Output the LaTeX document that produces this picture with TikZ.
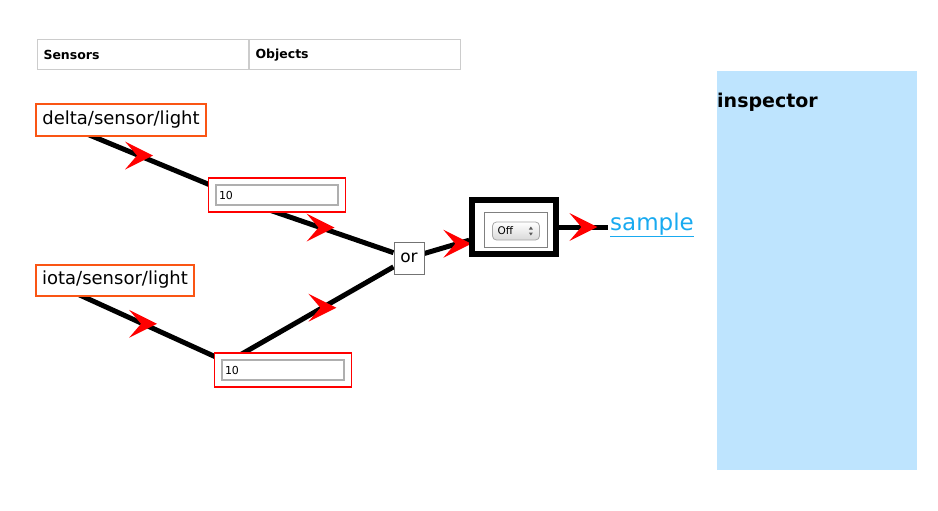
\documentclass[tikz,border=0pt]{standalone}
\usepackage{fontspec}
\setmainfont{DejaVu Sans}
\usetikzlibrary{positioning,calc,backgrounds}
\definecolor{sensororange}{RGB}{250,85,20}
\definecolor{linkblue}{RGB}{25,170,240}
\definecolor{panelblue}{RGB}{190,228,254}
\definecolor{cellgray}{RGB}{204,204,204}
\definecolor{fieldgray}{RGB}{175,175,175}
\newcommand{\pxfont}[1]{\fontsize{#1}{#1}\selectfont}
\tikzset{
  cell/.style={draw=cellgray, line width=1pt, minimum width=211pt, minimum height=30pt,
    text width=199pt, inner xsep=6pt, align=left, font=\pxfont{12.5}\bfseries},
  sensor/.style={draw=sensororange, line width=2pt, fill=white, minimum height=31pt,
    inner sep=0pt, font=\pxfont{18}},
  field/.style={draw=red, line width=1.2pt, fill=white, minimum width=137pt, minimum height=34pt},
  entry/.style={draw=fieldgray, line width=1.5pt, minimum width=122pt, minimum height=20pt,
    text width=116pt, inner xsep=3pt, inner ysep=0pt, align=left, font=\pxfont{11}},
  gate/.style={draw=black!55, line width=1pt, fill=white, minimum width=30pt, minimum height=32pt,
    inner sep=0pt, font=\pxfont{17}},
  toggle/.style={draw, line width=5.5pt, fill=white, minimum width=84pt, minimum height=54pt},
  button/.style={draw=black!35, line width=0.8pt, rounded corners=4pt, top color=white,
    bottom color=black!15, minimum width=47pt, minimum height=18pt, text width=37pt,
    inner xsep=5pt, inner ysep=0pt, align=left, font=\pxfont{10.5}},
  wire/.style={line width=5pt},
  redhead/.pic={\fill[red] (14,0) -- (-14,14) -- (-2,0) -- (-14,-14) -- cycle;}
}
\begin{document}
\begin{tikzpicture}[x=1pt, y=-1pt]
  \useasboundingbox (0,0) rectangle (938,511);
  \node[cell] (sensors) at (143,55) {Sensors};
  \node[cell, right=0pt of sensors] (objects) {Objects};
  \node[sensor, minimum width=170pt] (delta) at (121,120) {delta/sensor/light};
  \node[sensor, minimum width=158pt] (iota) at (115,280) {iota/sensor/light};
  \node[field] (in1) at (277,195) {};
  \node[entry] (val1) at (in1) {10};
  \node[field] (in2) at (283,370) {};
  \node[entry] (val2) at (in2) {10};
  \node[gate] (or) at (409,258) {or};
  \node[toggle] (off) at (514,227) {};
  \node[draw=black!50, line width=1pt, minimum width=63pt, minimum height=35pt] (offframe) at (516,230) {};
  \node[button] (offbtn) at (516,231) {Off};
  \fill[black!65] ($(offbtn.east)+(-9,-4.5)$) -- ($(offbtn.east)+(-11,-1.5)$) -- ($(offbtn.east)+(-7,-1.5)$) -- cycle;
  \fill[black!65] ($(offbtn.east)+(-9,4.5)$) -- ($(offbtn.east)+(-11,1.5)$) -- ($(offbtn.east)+(-7,1.5)$) -- cycle;
  \node[text=linkblue, font=\pxfont{23}, inner sep=2pt, anchor=base west] (sample) at (608,230) {\underline{sample}};
  \node[fill=panelblue, minimum width=200pt, minimum height=399pt, inner sep=0pt, outer sep=0pt,
    anchor=north west] (panel) at (717,71) {};
  \node[font=\pxfont{19}\bfseries, inner sep=0pt, anchor=base west] (title)
    at ([yshift=-37pt]panel.north west) {inspector};
  \begin{scope}[on background layer]
    \draw[wire, shorten <=-6pt, shorten >=8pt] ([xshift=-28pt]delta.south) -- (in1.south);
    \draw[wire, shorten <=-8pt] (in1.south) -- (or);
    \draw[wire, shorten <=-6pt, shorten >=8pt] ([xshift=-32pt]iota.south) -- (in2.south);
    \draw[wire, shorten <=4pt] (in2.west) -- (or);
    \draw[wire] (or) -- (off);
    \draw[wire] (off) -- (off -| sample.west);
    \pic at ($([xshift=-28pt]delta.south)!0.25!(in1.south)$) {redhead};
    \pic at ($(in1.south)!0.33!(or)$) {redhead};
    \pic at ($([xshift=-32pt]iota.south)!0.3!(in2.south)$) {redhead};
    \pic at ($(in2.west)!0.556!(or)$) {redhead};
    \pic at ($(or)!0.46!(off)$) {redhead};
    \pic at ($(off.east)!0.5!(off -| sample.west)$) {redhead};
  \end{scope}
\end{tikzpicture}
\end{document}
